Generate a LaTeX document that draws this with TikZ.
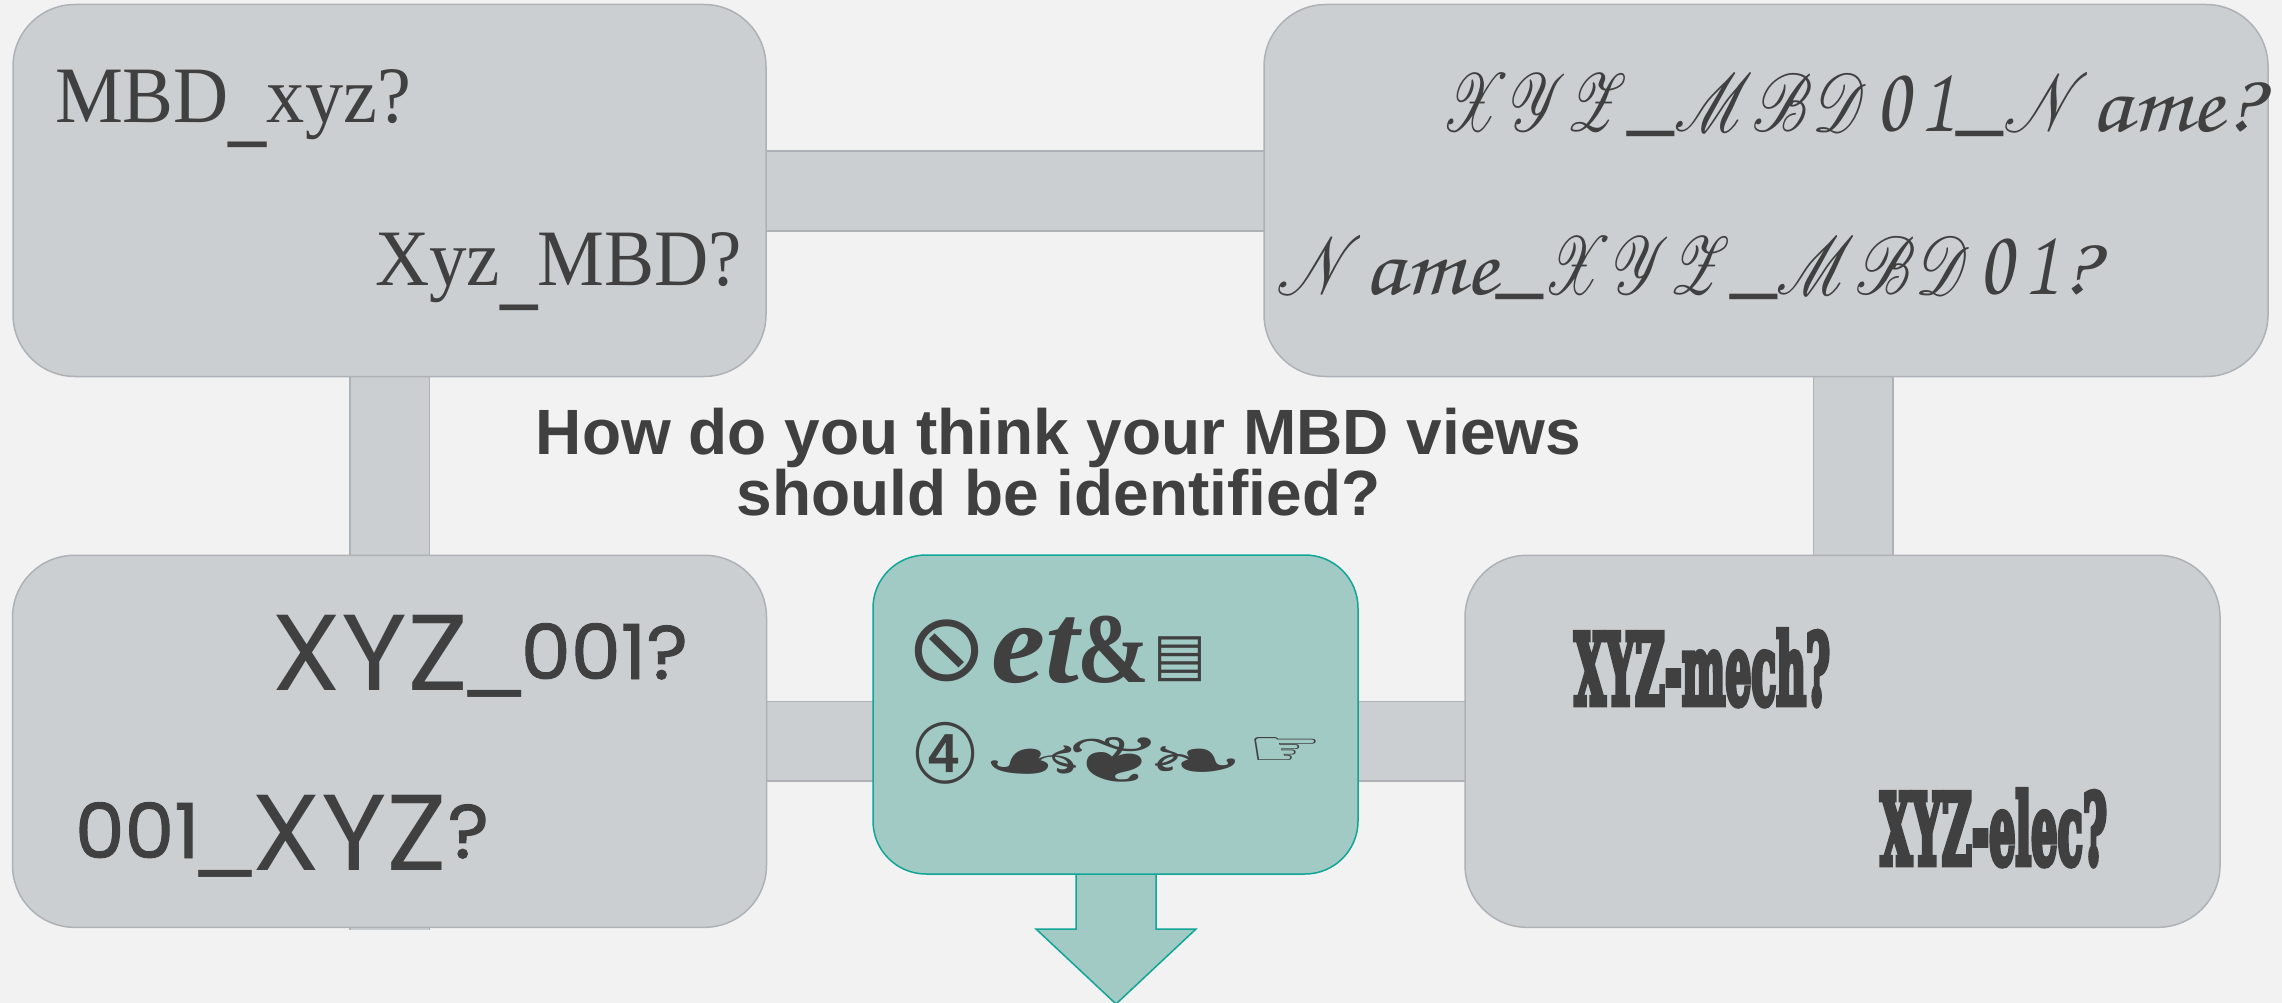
\documentclass[tikz,border=0pt]{standalone}
\usepackage{fontspec}
\usepackage{graphicx}
\usepackage{mathrsfs}
\setmainfont{Liberation Serif}
\newfontfamily\titlef{Liberation Sans}
\newfontfamily\undf{Liberation Serif}
\newfontfamily\handf{Poppins}
\newfontfamily\handfb[FakeBold=1.2]{Poppins}
\newfontfamily\slabf[BoldFeatures={FakeBold=7}]{DejaVu Serif}
\newfontfamily\symf{DejaVu Sans}
\definecolor{bgc}{HTML}{F2F2F2}
\definecolor{boxc}{HTML}{CBCFD2}
\definecolor{edgec}{HTML}{AEB2B6}
\definecolor{tealc}{HTML}{A2CAC5}
\definecolor{tedgec}{HTML}{10A596}
\definecolor{inkc}{HTML}{404040}
\newcommand{\fitw}[2]{\resizebox{#1pt}{\height}{#2}}
\newcommand{\fitwh}[3]{\resizebox*{#1pt}{#2pt}{#3}}
\newcommand{\fs}[1]{\fontsize{#1}{#1}\selectfont}
\newcommand{\und}{{\undf\bfseries\_}}
\newcommand{\curlund}{\raisebox{-14pt}{\und}}
\newcommand{\handund}{\raisebox{7pt}{\fs{100}\und}}
\newcommand{\scrcaps}[2][3.3]{\scalebox{#1}[3.3]{\fontsize{24.88}{25}\selectfont$\mathscr{#2}$}}
\newcommand{\scrund}{\raisebox{9pt}{\fs{110}{\undf\_}}}
\newcommand{\scrlow}[1]{\scalebox{1.35}[1]{\usefont{OT1}{pzc}{m}{it}\fs{84}#1}}
\newcommand{\scrnum}[1]{\hspace{9pt}\scalebox{1}[1.05]{\usefont{OT1}{pzc}{m}{it}\fs{92}#1}\hspace{3pt}}
\tikzset{
  x=1pt,y=-1pt,
  panel/.style={draw=edgec,fill=boxc,line width=1.5pt,rounded corners=62pt,inner sep=0pt,outer sep=0pt},
  central/.style={draw=tedgec,fill=tealc,line width=1.5pt,rounded corners=53pt,inner sep=0pt,outer sep=0pt},
  bar/.style={line width=1.5pt,draw=edgec,double=boxc,double distance=78pt},
  lbl/.style={anchor=base west,inner sep=0pt,outer sep=0pt,text=inkc},
  glyph/.style={anchor=south west,inner sep=0pt,outer sep=0pt,text=inkc,font=\symf}
}
\begin{document}
\begin{tikzpicture}
\useasboundingbox (0,0) rectangle (2282,1003);
\fill[bgc] (0,0) rectangle (2282,1003);
% anchors of the connectors
\coordinate (tlc) at (389.5,191);
\coordinate (trc) at (1766,191);
\coordinate (blc) at (389.5,741);
\coordinate (brc) at (1842.5,741);
\coordinate (lvend) at (389.5,930);
\coordinate (rvtop) at (1853,300);
\coordinate (rvend) at (1853,800);
\draw[bar] (tlc) -- (trc);
\draw[bar] (tlc) -- (lvend);
\draw[bar] (rvtop) -- (rvend);
\draw[bar] (blc) -- (brc);
% panels
\node[panel,minimum width=753pt,minimum height=372pt] (tl) at (389.5,190.5) {};
\node[panel,minimum width=1004pt,minimum height=372pt] (tr) at (1766,190.5) {};
\node[panel,minimum width=754pt,minimum height=372pt] (bl) at (389.5,741.3) {};
\node[panel,minimum width=755pt,minimum height=372pt] (br) at (1842.5,741.3) {};
% arrow
\draw[draw=tedgec,fill=tealc,line width=1.5pt,line join=miter]
  (1076,860) -- (1076,929) -- (1036,929) -- (1116,1004) -- (1196,929) -- (1156,929) -- (1156,860);
\node[central,minimum width=485pt,minimum height=319pt] (ctr) at (1115.5,714.5) {};
% title
\node[anchor=center,align=center,inner sep=0pt,text=inkc,font=\titlef\bfseries\fontsize{64}{61}\selectfont] (title) at (1058.5,462) {How do you think your MBD views\\should be identified?};
% curly
\node[lbl] (t1) at (55,123) {\fitw{356}{\fs{80}MBD\curlund xyz?}};
\node[lbl] (t2) at (375,285) {\fitw{367}{\fs{80}Xyz\curlund MBD?}};
% script
\node[lbl] (t3) at (1441,132) {\fitw{819}{\scrcaps[2.7]{XYZ}\scrund\scrcaps[3.0]{MBD}\scrnum{0}\scrnum{1}\scrund\scrcaps{N}\scrlow{ame?}}};
\node[lbl] (t4) at (1276.5,294) {\fitw{820}{\scrcaps{N}\scrlow{ame}\scrund\scrcaps[2.7]{XYZ}\scrund\scrcaps[3.0]{MBD}\scrnum{0}\scrnum{1}\scrlow{?}}};
% hand
\node[lbl] (t5) at (271,690) {\fitw{417}{\handf\fs{108}XYZ\handund\raisebox{11pt}{\handfb\fs{76}001?}}};
\node[lbl] (t6) at (75,870) {\fitw{414}{\handf\raisebox{12pt}{\handfb\fs{76}001}\handund\fs{108}XYZ\raisebox{12pt}{\handfb\fs{76}?}}};
% slab
\node[lbl] (t7) at (1574,704) {\fitw{256}{\slabf\bfseries\fs{97}XYZ-mech?}};
\node[lbl] (t8) at (1880,864) {\fitw{227}{\slabf\bfseries\fs{97}XYZ-elec?}};
% symbols
\node[glyph] (s1) at (906,682) {\fitwh{81}{62}{\reflectbox{⊘}}};
\node[lbl] (s2) at (991,682) {\fitw{88}{\bfseries\itshape\fs{115}et}};
\node[lbl] (s3) at (1077,682) {\fitw{72}{\bfseries\fs{100}\&}};
\node[glyph] (s4) at (1153,682) {\fitwh{53}{45}{▤}};
\node[glyph] (s5) at (910,784) {\fitwh{70}{62}{④}};
\node[glyph] (s6) at (981,783) {\fitwh{264}{46}{\fs{100}☙\kern-17pt ❦\kern-15pt ❧}};
\node[glyph] (s9) at (1247,765) {\fitwh{76}{28}{☞}};
\end{tikzpicture}
\end{document}
